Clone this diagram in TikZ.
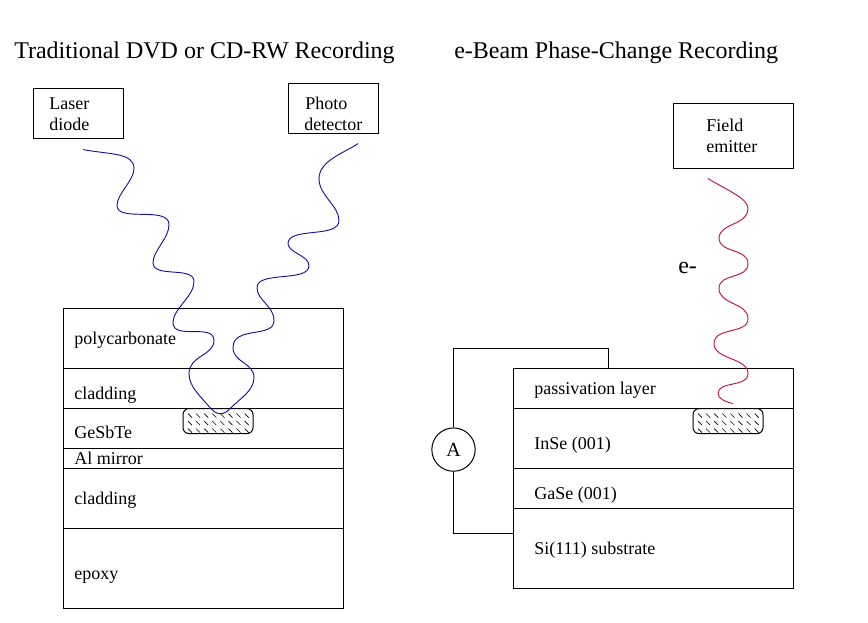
\documentclass[tikz,border=0pt]{standalone}
\usepackage{fontspec}
\setmainfont{Liberation Serif}
\definecolor{wave}{RGB}{20,20,160}
\definecolor{beam}{RGB}{200,20,50}
\tikzset{
  layerline/.style={line width=0.75pt},
  blockbox/.style={draw,line width=0.75pt,inner sep=0pt},
  lbl/.style={anchor=base west,inner sep=0pt,font=\fontsize{13.5}{15}\selectfont},
  ttl/.style={anchor=base west,inner sep=0pt,font=\fontsize{18}{20}\selectfont},
  spot/.style={draw,line width=0.75pt,rounded corners=4.5pt},
  hatchline/.style={line width=0.45pt}
}
\newcommand{\hatchspot}[1]{% rounded spot at x=#1, top at 408
  \draw[spot] (#1,408) rectangle (#1+70,433);
  \foreach \row in {413,420.5,428}
    \foreach \i in {0,...,7}
      \draw[hatchline] (#1+5+\i*8.1,\row) -- ++(4,4);
}
\begin{document}
\begin{tikzpicture}[x=0.75pt,y=-0.75pt]   % ------ coordinates in pixels of the figure ------
  \useasboundingbox (0,-0.6) rectangle (868,622.4);

  % titles
  \node[ttl] (titleL) at (14,58) {Traditional DVD or CD-RW Recording};
  \node[ttl] (titleR) at (454,58) {e-Beam Phase-Change Recording};

  % sources
  \node[blockbox,minimum width=67.5pt,minimum height=37.5pt] (laser) at (78,113) {};
  \node[blockbox,minimum width=67.5pt,minimum height=37.5pt] (photo) at (333.5,108) {};
  \node[blockbox,minimum width=90pt,minimum height=48.75pt] (field) at (733,135.5) {};
  \node[lbl] (laserA) at (49,109) {Laser};
  \node[lbl] (laserB) at (49,130) {diode};
  \node[lbl] (photoA) at (305,109) {Photo};
  \node[lbl] (photoB) at (304,130) {detector};
  \node[lbl] (fieldA) at (706,131) {Field};
  \node[lbl] (fieldB) at (706,152) {emitter};

  % left stack
  \draw[layerline] (63,308) rectangle (343,608);
  \foreach \y in {368,408,448,468,528}
    \draw[layerline] (63,\y) -- (343,\y);
  \node[lbl] (poly) at (74,344) {polycarbonate};
  \node[lbl] (cladA) at (74,399) {cladding};
  \node[lbl] (gesb) at (74,438) {GeSbTe};
  \node[lbl] (mirror) at (74,464) {Al mirror};
  \node[lbl] (cladB) at (74,504) {cladding};
  \node[lbl] (epoxy) at (74,579) {epoxy};
  \hatchspot{183}

  % right stack
  \draw[layerline] (513,368) rectangle (793,588);
  \foreach \y in {408,468,508}
    \draw[layerline] (513,\y) -- (793,\y);
  \node[lbl] (pass) at (534,394) {passivation layer};
  \node[lbl] (inse) at (534,449) {InSe (001)};
  \node[lbl] (gase) at (534,499) {GaSe (001)};
  \node[lbl] (subst) at (534,554) {Si(111) substrate};
  \hatchspot{693}

  % ammeter
  \node[draw,circle,line width=0.75pt,minimum size=32.5pt,inner sep=0pt,
        font=\fontsize{15}{17}\selectfont] (amp) at (453.5,449) {A};
  \coordinate (wireA) at (453.5,348);
  \coordinate (wireB) at (608,348);
  \coordinate (wireC) at (608,368);
  \coordinate (wireD) at (453.5,533);
  \coordinate (wireE) at (513,533);
  \draw[layerline] (amp) -- (wireA) -- (wireB) -- (wireC);
  \draw[layerline] (amp) -- (wireD) -- (wireE);

  % waves
  \draw[wave,line width=0.7pt] (83,149)
    .. controls (110,154) and (134,152) .. (134,168)
    .. controls (134,180) and (117,193) .. (117,205)
    .. controls (117,222) and (169,205) .. (169,224)
    .. controls (169,238) and (153,250) .. (153,262)
    .. controls (153,278) and (194,265) .. (194,281)
    .. controls (194,296) and (173,308) .. (173,322)
    .. controls (173,340) and (214,322) .. (214,340)
    .. controls (214,355) and (189,355) .. (189,373)
    .. controls (189,386) and (200,395) .. (210,407)
    .. controls (214,411) and (216,413) .. (220,413)
    .. controls (224,413) and (226,412) .. (230,408)
    .. controls (240,398) and (254,390) .. (254,377)
    .. controls (254,362) and (233,362) .. (233,347)
    .. controls (233,325) and (274,338) .. (274,320)
    .. controls (274,305) and (257,300) .. (257,287)
    .. controls (257,270) and (309,282) .. (309,265)
    .. controls (309,255) and (288,252) .. (288,243)
    .. controls (288,226) and (339,238) .. (339,220)
    .. controls (339,205) and (319,195) .. (319,178)
    .. controls (319,160) and (345,152) .. (358,143);
  \draw[beam,line width=0.7pt] (708,178)
    .. controls (728,190) and (748,198) .. (748,208)
    .. controls (748,225) and (719,222) .. (719,238)
    .. controls (719,252) and (748,248) .. (748,263)
    .. controls (748,279) and (719,272) .. (719,288)
    .. controls (719,304) and (748,302) .. (748,318)
    .. controls (748,334) and (714,326) .. (714,343)
    .. controls (714,359) and (748,357) .. (748,373)
    .. controls (748,387) and (718,380) .. (718,393)
    .. controls (718,398) and (725,401) .. (733,403);

  \node[lbl,font=\fontsize{18}{20}\selectfont] (elec) at (678,273) {e-};
\end{tikzpicture}
\end{document}
